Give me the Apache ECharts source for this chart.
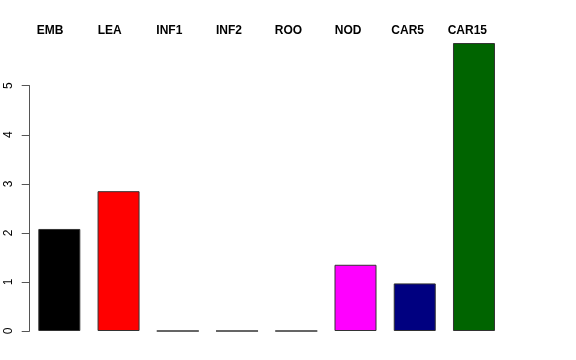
<!DOCTYPE html>
<html><head><meta charset="utf-8">
<script src="https://cdn.jsdelivr.net/npm/echarts@6/dist/echarts.min.js"></script>
<style>html,body{margin:0;padding:0;background:#fff}#c{width:576px;height:360px}</style>
</head><body><div id="c"></div>
<script>
const categories = ['EMB','LEA','INF1','INF2','ROO','NOD','CAR5','CAR15'];
const values = [2.08, 2.85, 0, 0, 0, 1.35, 0.97, 5.87];
const barColors = ['#000000','#FF0000','#00CD00','#0000FF','#00FFFF','#FF00FF','#000080','#006400'];
const yTicks = [0,1,2,3,4,5];

const chart = echarts.init(document.getElementById('c'), null, {renderer:'canvas'});
chart.setOption({
  animation:false,
  backgroundColor:'#ffffff',
  grid:[
    {left:29.7, right:72.4, top:85.7, bottom:29, containLabel:false},
    {left:20.3, right:78.9, top:85.7, bottom:29, containLabel:false}
  ],
  xAxis:[{
    type:'category', data:categories, gridIndex:0,
    axisLine:{show:false}, axisTick:{show:false}, axisLabel:{show:false}
  },{
    type:'category', data:categories, position:'top', gridIndex:1,
    axisLine:{show:false}, axisTick:{show:false},
    axisLabel:{margin:49, fontFamily:'Liberation Sans, Arial, sans-serif', fontWeight:'bold', fontSize:12, color:'#000'}
  }],
  yAxis:[{
    type:'value', min:yTicks[0], max:yTicks[yTicks.length-1], interval:1, gridIndex:0,
    splitLine:{show:false},
    axisLine:{show:true, lineStyle:{color:'#555', width:1}},
    axisTick:{show:true, length:8, lineStyle:{color:'#555', width:1}},
    axisLabel:{rotate:90, margin:15, fontFamily:'Liberation Sans, Arial, sans-serif', fontSize:12, color:'#000'}
  },{
    type:'value', min:0, max:5, gridIndex:1, show:false
  }],
  series:[{
    type:'bar', clip:false, barWidth:42, xAxisIndex:0, yAxisIndex:0,
    data: values.map((v,i)=>({value:v, itemStyle:{color:barColors[i]}})),
    itemStyle:{borderColor:'#333', borderWidth:1}
  }]
});
</script></body></html>
